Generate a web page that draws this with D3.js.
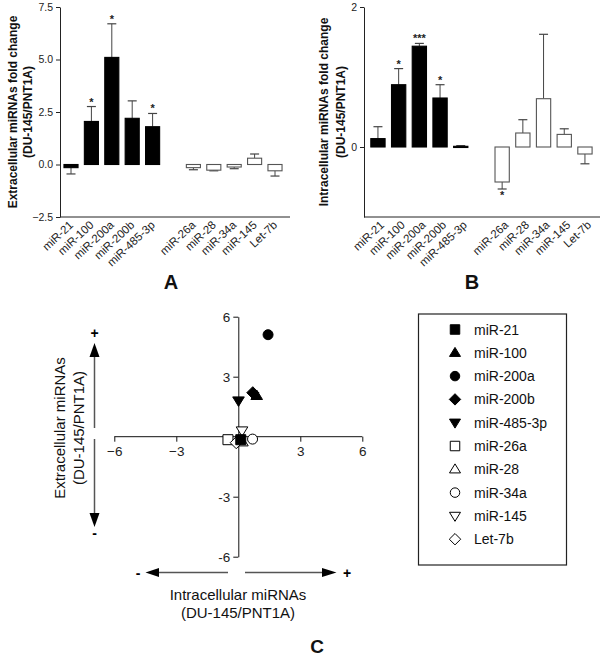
<!DOCTYPE html>
<html><head><meta charset="utf-8">
<script src="https://cdn.jsdelivr.net/npm/d3@7"></script>
<style>body{margin:0;background:#fff} svg{display:block;font-family:Arial,"Liberation Sans",Helvetica,sans-serif}</style>
</head><body>
<svg id="c" width="600" height="658"></svg>
<script>
const categories = ["miR-21","miR-100","miR-200a","miR-200b","miR-485-3p","miR-26a","miR-28","miR-34a","miR-145","Let-7b"];
const filled     = [true,true,true,true,true,false,false,false,false,false];
const extraMean  = [-0.15,2.05,5.1,2.2,1.8,-0.15,-0.27,-0.12,0.3,-0.3];
const extraErr   = [0.3,0.71,1.6,0.83,0.63,0.1,0.03,0.08,0.2,0.25];
const extraSig   = ["","*","*","","*","","","","",""];
const intraMean  = [0.12,0.89,1.44,0.70,0.01,-0.5,0.2,0.69,0.18,-0.1];
const intraErr   = [0.17,0.23,0.04,0.19,0.01,0.1,0.19,0.92,0.08,0.14];
const intraSig   = ["","*","***","*","","*","","","",""];
const ticksA = [-2.5,0,2.5,5,7.5];
const ticksB = [0,2];
const ticksC = [-6,-3,3,6];
const shapes = ["square","triangle","circle","diamond","triangleDown","square","triangle","circle","triangleDown","diamond"];

const svg = d3.select("#c");
const slot = i => i < 5 ? i : i + 1;

function symPath(shape, s) {
  const h = s/2;
  if (shape === "square") return `M${-h},${-h}H${h}V${h}H${-h}Z`;
  if (shape === "circle") return d3.symbol(d3.symbolCircle, Math.PI*h*h)();
  if (shape === "diamond") { const r = h*1.2; return `M0,${-r}L${r},0L0,${r}L${-r},0Z`; }
  const th = s*0.95, hw = s*0.58;
  if (shape === "triangle") return `M0,${-th*0.6}L${hw},${th*0.4}L${-hw},${th*0.4}Z`;
  return `M0,${th*0.6}L${hw},${-th*0.4}L${-hw},${-th*0.4}Z`;
}

function barPanel(opts) {
  const g = svg.append("g");
  const x = d3.scaleBand().domain(d3.range(11)).range(opts.xr).paddingInner(0.31).paddingOuter(0.155);
  const y = d3.scaleLinear().domain(opts.yd).range([217, 7]);
  const ax = g.append("g").attr("transform", `translate(${opts.axisX},0)`)
    .call(d3.axisLeft(y).tickValues(opts.ticks).tickSize(4).tickSizeOuter(0).tickFormat(opts.fmt));
  ax.select(".domain").attr("stroke","#222");
  ax.selectAll(".tick line").attr("stroke","#222");
  ax.selectAll("text").attr("font-size", 10.5).attr("fill","#222").attr("font-family","Arial,'Liberation Sans',sans-serif");
  g.append("line").attr("x1", opts.axisX).attr("x2", opts.xEnd).attr("y1", 217).attr("y2", 217).attr("stroke","#222");
  const bw = x.bandwidth();
  categories.forEach((c, i) => {
    const m = opts.mean[i], e = opts.err[i];
    const cx = x(slot(i)) + bw/2;
    const y0 = y(0), y1 = y(m);
    const ye = y(m + (m >= 0 ? e : -e));
    g.append("line").attr("x1", cx).attr("x2", cx).attr("y1", y1).attr("y2", ye).attr("stroke","#444").attr("stroke-width",1);
    g.append("line").attr("x1", cx-4.5).attr("x2", cx+4.5).attr("y1", ye).attr("y2", ye).attr("stroke","#444").attr("stroke-width",1.2);
    g.append("rect").attr("x", x(slot(i))).attr("width", bw)
      .attr("y", Math.min(y0,y1)).attr("height", Math.max(1.2, Math.abs(y1-y0)))
      .attr("fill", filled[i] ? "#000" : "#fff").attr("stroke", filled[i] ? "#000" : "#555").attr("stroke-width", 1.1);
    if (opts.sig[i]) {
      g.append("text").attr("x", cx).attr("y", m >= 0 ? ye - 1 : ye + 10)
        .attr("text-anchor","middle").attr("font-size", 11).attr("font-weight","bold").attr("fill","#222").text(opts.sig[i]);
    }
    g.append("text").attr("transform", `translate(${cx+opts.labDx},${226}) rotate(-43)`)
      .attr("text-anchor","end").attr("font-size", 11.5).attr("fill","#222").text(c);
  });
  opts.label.forEach((t, k) => {
    g.append("text").attr("transform", `translate(${opts.labelX[k]},${112}) rotate(-90)`)
      .attr("text-anchor","middle").attr("font-size", 12).attr("font-weight","bold").attr("fill","#111").text(t);
  });
  g.append("text").attr("x", opts.letterX).attr("y", 289).attr("text-anchor","middle")
    .attr("font-size", 20).attr("font-weight","bold").attr("fill","#111").text(opts.letter);
}

barPanel({xr:[60.8,285.2], axisX:60, xEnd:290, yd:[-2.5,7.5], ticks:ticksA, fmt:d3.format(".1f"),
  mean:extraMean, err:extraErr, sig:extraSig, label:["Extracellular miRNAs fold change","(DU-145/PNT1A)"],
  labelX:[17,32], letter:"A", letterX:171, labDx:3});
barPanel({xr:[367.6,595.3], axisX:364, xEnd:600, yd:[-1,2], ticks:ticksB, fmt:d3.format("d"),
  mean:intraMean, err:intraErr, sig:intraSig, label:["Intracellular miRNAs fold change","(DU-145/PNT1A)"],
  labelX:[328,345], letter:"B", letterX:472, labDx:7});

// Panel C
const gc = svg.append("g");
const xc = d3.scaleLinear().domain([-6,6]).range([114.3,362.3]);
const yc = d3.scaleLinear().domain([-6,6]).range([556.7,316.7]);
const fontC = 13.5;
const ya = gc.append("g").attr("transform", `translate(${xc(0)},0)`)
  .call(d3.axisLeft(yc).tickValues([-6,-3,0,3,6]).tickSize(5).tickSizeOuter(0).tickFormat(d => d === 0 ? "" : d));
ya.selectAll(".tick").filter(d => d === 0).select("line").remove();
const xa = gc.append("g").attr("transform", `translate(0,${yc(0)})`)
  .call(d3.axisBottom(xc).tickValues(ticksC).tickSize(5).tickSizeOuter(0).tickPadding(5));
[ya, xa].forEach(a => {
  a.select(".domain").attr("stroke","#111");
  a.selectAll(".tick line").attr("stroke","#111");
  a.selectAll("text").attr("font-size", fontC).attr("fill","#222").attr("font-family","Arial,'Liberation Sans',sans-serif");
});
xa.select(".domain").attr("d", `M${xc(-6)},0H${xc(6)}`);

// arrows
const arrowCol = "#555";
function line(x1,y1,x2,y2){ gc.append("line").attr("x1",x1).attr("y1",y1).attr("x2",x2).attr("y2",y2).attr("stroke",arrowCol).attr("stroke-width",1.5); }
function head(pts){ gc.append("path").attr("d","M"+pts.map(p=>p.join(",")).join("L")+"Z").attr("fill","#000"); }
const vx = 94.5;
line(vx,355,vx,428); line(vx,439,vx,514);
head([[vx,343],[vx+5,357],[vx-5,357]]);
head([[vx,527],[vx+5,513],[vx-5,513]]);
gc.append("text").attr("x",vx).attr("y",338).attr("text-anchor","middle").attr("font-size",14).attr("font-weight","bold").text("+");
gc.append("text").attr("x",vx).attr("y",538).attr("text-anchor","middle").attr("font-size",14).attr("font-weight","bold").text("-");
const hy = 572.5;
line(158,hy,228,hy); line(245,hy,322,hy);
head([[145.5,hy],[159,hy-4.5],[159,hy+4.5]]);
head([[336.5,hy],[322,hy-4.5],[322,hy+4.5]]);
gc.append("text").attr("x",138).attr("y",hy+5).attr("text-anchor","middle").attr("font-size",14).attr("font-weight","bold").text("-");
gc.append("text").attr("x",347).attr("y",hy+5).attr("text-anchor","middle").attr("font-size",14).attr("font-weight","bold").text("+");

// axis titles
gc.append("text").attr("x",238).attr("y",600).attr("text-anchor","middle").attr("font-size",15).attr("fill","#111").text("Intracellular miRNAs");
gc.append("text").attr("x",238).attr("y",618).attr("text-anchor","middle").attr("font-size",15).attr("fill","#111").text("(DU-145/PNT1A)");
gc.append("text").attr("transform","translate(65,428) rotate(-90)").attr("text-anchor","middle").attr("font-size",15).attr("fill","#111").text("Extracellular miRNAs");
gc.append("text").attr("transform","translate(84,428) rotate(-90)").attr("text-anchor","middle").attr("font-size",15).attr("fill","#111").text("(DU-145/PNT1A)");
gc.append("text").attr("x",317).attr("y",653).attr("text-anchor","middle").attr("font-size",19).attr("font-weight","bold").attr("fill","#111").text("C");

// points (open drawn first, filled on top)
const order = d3.range(categories.length).sort((a,b) => (filled[a]?1:0) - (filled[b]?1:0));
order.forEach(i => {
  gc.append("path").attr("d", symPath(shapes[i], 10))
    .attr("transform", `translate(${xc(intraMean[i])},${yc(extraMean[i])})`)
    .attr("fill", filled[i] ? "#000" : "#fff").attr("stroke","#000").attr("stroke-width",1);
});

// legend
const lg = svg.append("g");
lg.append("rect").attr("x",418.5).attr("y",314).attr("width",148).attr("height",251).attr("fill","none").attr("stroke","#222").attr("stroke-width",1.2);
categories.forEach((c,i) => {
  const yy = 329.5 + i*23.3;
  lg.append("path").attr("d", symPath(shapes[i], 9.5)).attr("transform",`translate(455,${yy})`)
    .attr("fill", filled[i] ? "#000" : "#fff").attr("stroke","#000").attr("stroke-width",1);
  lg.append("text").attr("x",474).attr("y",yy+5).attr("font-size",14).attr("fill","#111").text(c);
});
</script>
</body></html>
